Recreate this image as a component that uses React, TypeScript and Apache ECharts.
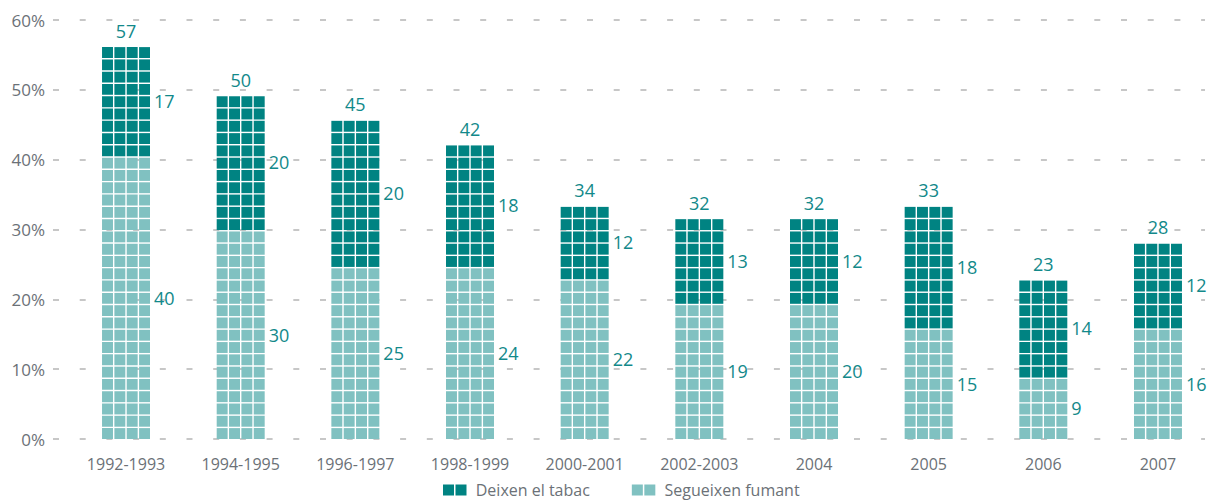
import React, { useEffect, useRef } from "react";
import * as echarts from "echarts";

const categories = [
  "1992-1993",
  "1994-1995",
  "1996-1997",
  "1998-1999",
  "2000-2001",
  "2002-2003",
  "2004",
  "2005",
  "2006",
  "2007",
];
// Deixen el tabac (dark, top)
const quitting = [17, 20, 20, 18, 12, 13, 12, 18, 14, 12];
// Segueixen fumant (light, bottom)
const smoking = [40, 30, 25, 24, 22, 19, 20, 15, 9, 16];
const yMin = 0;
const yMax = 60;
const yInterval = 10;
// value represented by one row of tiles
const ROW_VALUE = 1.76;

const DARK = "#008382";
const LIGHT = "#80c1c1";
const LABEL = "#12898a";
const GRAY = "#6b7177";
const FONT = "'Open Sans', 'Noto Sans', sans-serif";

const NAME_DARK = "Deixen el tabac";
const NAME_LIGHT = "Segueixen fumant";

function tiles(api: any, i: number, fromRow: number, toRow: number, color: string) {
  const catW = api.size([1, 0])[0];
  const barW = catW * 0.4186;
  const cx = api.coord([i, 0])[0];
  const left = cx - barW / 2;
  const gap = 1.4;
  const cw = (barW - 3 * gap) / 4;
  const out: any[] = [];
  for (let r = fromRow; r < toRow; r++) {
    const yb = api.coord([i, r * ROW_VALUE])[1];
    const yt = api.coord([i, (r + 1) * ROW_VALUE])[1];
    for (let c = 0; c < 4; c++) {
      out.push({
        type: "rect",
        shape: { x: left + c * (cw + gap), y: yt + gap, width: cw, height: yb - yt - gap },
        style: { fill: color },
      });
    }
  }
  return { out, right: left + barW, cx };
}

export default function App() {
  const ref = useRef<HTMLDivElement>(null);
  useEffect(() => {
    if (!ref.current) return;
    const chart = echarts.init(ref.current, undefined, { renderer: "svg" });
    const option: any = {
      animation: false,
      grid: [
        { left: 68.7, right: 4.7, top: 20, bottom: 62, containLabel: false, outerBoundsMode: "none" },
        { left: 53, right: 15, top: 20, bottom: 62, containLabel: false, outerBoundsMode: "none" },
      ],
      xAxis: [
        {
          type: "category",
          gridIndex: 0,
          data: categories,
          axisLine: { show: false },
          axisTick: { show: false },
          axisLabel: { color: GRAY, fontSize: 16, fontFamily: FONT, margin: 17 },
        },
        { type: "value", gridIndex: 1, show: false, min: 0, max: 1 },
      ],
      yAxis: [
        {
          type: "value",
          gridIndex: 0,
          min: yMin,
          max: yMax,
          interval: yInterval,
          show: false,
          splitLine: { show: false },
        },
        {
          type: "value",
          gridIndex: 1,
          min: yMin,
          max: yMax,
          interval: yInterval,
          axisLine: { show: false },
          axisTick: { show: false },
          axisLabel: {
            formatter: "{value}%",
            color: GRAY,
            fontSize: 17,
            fontFamily: FONT,
            margin: 8,
          },
          splitLine: {
            show: true,
            lineStyle: { color: "#b5b5b5", width: 1.5, type: [6, 20.7] },
          },
        },
      ],
      legend: {
        left: 438,
        top: 477,
        itemWidth: 24,
        itemHeight: 11,
        itemGap: 42,
        textStyle: { color: GRAY, fontSize: 16, fontFamily: FONT, padding: [0, 0, 0, 4] },
        data: [
          { name: NAME_DARK, icon: "path://M0,0H11V11H0Z M12.5,0H23.5V11H12.5Z" },
          { name: NAME_LIGHT, icon: "path://M0,0H11V11H0Z M12.5,0H23.5V11H12.5Z" },
        ],
      },
      series: [
        {
          name: NAME_LIGHT,
          type: "custom",
          xAxisIndex: 0,
          yAxisIndex: 0,
          itemStyle: { color: LIGHT },
          encode: { x: 0, y: 1 },
          data: smoking.map((v, i) => [i, v]),
          renderItem: (params: any, api: any) => {
            const i = api.value(0);
            const v = api.value(1);
            const rows = Math.round(v / ROW_VALUE);
            const { out, right } = tiles(api, i, 0, rows, LIGHT);
            const y0 = api.coord([i, 0])[1];
            const y1 = api.coord([i, rows * ROW_VALUE])[1];
            out.push({
              type: "text",
              x: right + 4,
              y: (y0 + y1) / 2,
              style: {
                text: String(v),
                fill: LABEL,
                fontSize: 18,
                fontFamily: FONT,
                align: "left",
                verticalAlign: "middle",
              },
            });
            return { type: "group", children: out };
          },
        },
        {
          name: NAME_DARK,
          type: "custom",
          xAxisIndex: 0,
          yAxisIndex: 0,
          itemStyle: { color: DARK },
          encode: { x: 0, y: 2 },
          data: quitting.map((v, i) => [i, smoking[i], v]),
          renderItem: (params: any, api: any) => {
            const i = api.value(0);
            const base = api.value(1);
            const v = api.value(2);
            const startRow = Math.round(base / ROW_VALUE);
            const endRow = Math.round((base + v) / ROW_VALUE);
            const { out, right, cx } = tiles(api, i, startRow, endRow, DARK);
            const yb = api.coord([i, startRow * ROW_VALUE])[1];
            const yt = api.coord([i, endRow * ROW_VALUE])[1];
            out.push({
              type: "text",
              x: right + 4,
              y: (yb + yt) / 2,
              style: {
                text: String(v),
                fill: LABEL,
                fontSize: 18,
                fontFamily: FONT,
                align: "left",
                verticalAlign: "middle",
              },
            });
            out.push({
              type: "text",
              x: cx,
              y: yt - 15,
              style: {
                text: String(base + v),
                fill: LABEL,
                fontSize: 18,
                fontFamily: FONT,
                align: "center",
                verticalAlign: "middle",
              },
            });
            return { type: "group", children: out };
          },
        },
      ],
    };
    chart.setOption(option);
    return () => chart.dispose();
  }, []);
  return (
    <div
      ref={ref}
      style={{ position: "fixed", left: 0, top: 0, width: 1220, height: 501, background: "#fff" }}
    />
  );
}
